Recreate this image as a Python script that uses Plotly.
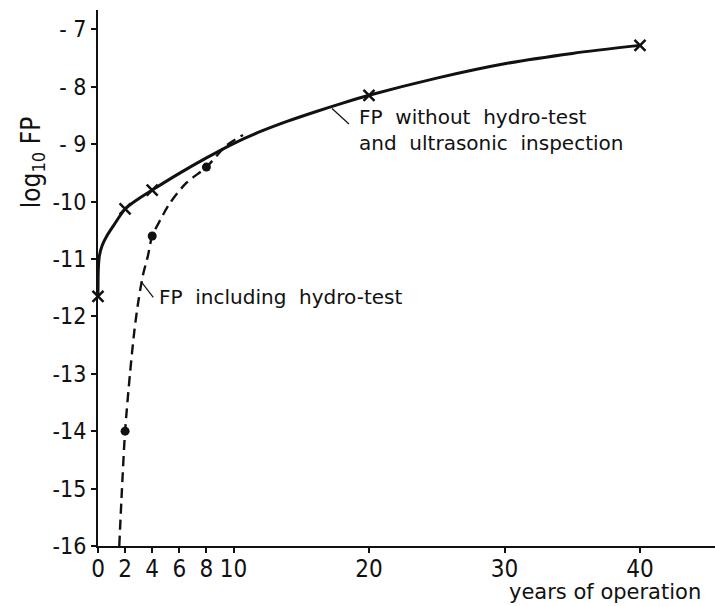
import plotly.graph_objects as go

# ---- data ----
solid_x = [0, 0.02, 0.1, 0.3, 0.65, 1.2, 2, 3, 4, 6, 8, 10, 12, 14, 16, 18, 20, 25, 30, 35, 40]
solid_y = [-11.65, -11.2, -10.95, -10.77, -10.6, -10.4, -10.13, -9.95, -9.8, -9.51, -9.24, -8.99,
           -8.78, -8.6, -8.44, -8.29, -8.15, -7.85, -7.6, -7.42, -7.28]
cross_x = [0, 2, 4, 20, 40]
cross_y = [-11.65, -10.13, -9.8, -8.15, -7.28]

dash_x = [1.57, 1.77, 2.0, 2.36, 2.69, 2.99, 3.32, 3.69, 4.0, 4.6, 5.3, 6.5, 8.0, 9.5, 10.7]
dash_y = [-16, -15, -14, -13, -12.24, -11.72, -11.28, -10.94, -10.6, -10.32, -10.03, -9.68, -9.4, -9.02, -8.84]
dot_x = [2, 4, 8]
dot_y = [-14, -10.6, -9.4]

x_ticks = [0, 2, 4, 6, 8, 10, 20, 30, 40]
x_ticklabels = ["0", "2", "4", "6", "8", "10", "20", "30", "40"]
y_ticks = [-16, -15, -14, -13, -12, -11, -10, -9, -8, -7]
y_ticklabels = ["-16", "-15", "-14", "-13", "-12", "-11", "-10", "- 9", "- 8", "- 7"]

S2 = "\u00a0 "
label_without = "FP" + S2 + "without" + S2 + "hydro-test<br>and" + S2 + "ultrasonic" + S2 + "inspection"
label_including = "FP" + S2 + "including" + S2 + "hydro-test"

TICKFONT = "DejaVu Sans Condensed, Liberation Sans Narrow, DejaVu Sans, sans-serif"
TEXTFONT = "DejaVu Sans, sans-serif"
INK = "#111111"

fig = go.Figure()
fig.add_trace(go.Scatter(x=solid_x, y=solid_y, mode="lines",
                         line=dict(color=INK, width=3, shape="spline", smoothing=0.8),
                         cliponaxis=False, hoverinfo="skip"))
fig.add_trace(go.Scatter(x=dash_x, y=dash_y, mode="lines",
                         line=dict(color=INK, width=2.4, dash="10px,6px", shape="spline", smoothing=0.8),
                         cliponaxis=False, hoverinfo="skip"))
fig.add_trace(go.Scatter(x=cross_x, y=cross_y, mode="markers",
                         marker=dict(symbol="x-thin", size=11, line=dict(color=INK, width=2.5)),
                         cliponaxis=False))
fig.add_trace(go.Scatter(x=dot_x, y=dot_y, mode="markers",
                         marker=dict(symbol="circle", size=9, color=INK),
                         cliponaxis=False))

# leader lines
fig.add_shape(type="line", x0=17.27, y0=-8.38, x1=18.52, y1=-8.65,
              line=dict(color=INK, width=1.2))
fig.add_shape(type="line", x0=3.2, y0=-11.4, x1=4.08, y1=-11.67,
              line=dict(color=INK, width=1.2))

fig.add_annotation(x=19.11, y=-8.76, text=label_without, showarrow=False,
                   xanchor="left", yanchor="middle", align="left",
                   font=dict(family=TEXTFONT, size=20, color=INK))
fig.add_annotation(x=4.35, y=-11.67, text=label_including, showarrow=False,
                   xanchor="left", yanchor="middle", align="left",
                   font=dict(family=TEXTFONT, size=20, color=INK))

# axis titles as annotations
fig.add_annotation(xref="paper", yref="paper", x=-0.107, y=0.716,
                   text="log<sub>10</sub> FP", textangle=-90, showarrow=False,
                   xanchor="center", yanchor="middle",
                   font=dict(family=TICKFONT, size=26, color=INK))
fig.add_annotation(xref="paper", yref="paper", x=0.9805, y=-0.112,
                   text="years of operation", showarrow=False,
                   xanchor="right", yanchor="bottom",
                   font=dict(family=TEXTFONT, size=21, color=INK))

fig.update_xaxes(range=[0, 45.535], tickmode="array", tickvals=x_ticks, ticktext=x_ticklabels,
                 showline=True, linecolor=INK, linewidth=2, ticks="outside", ticklen=5,
                 tickwidth=1.5, tickcolor=INK, showgrid=False, zeroline=False,
                 ticklabelstandoff=-5,
                 tickfont=dict(family=TICKFONT, size=24, color=INK))
fig.update_yaxes(range=[-16, -6.664], tickmode="array", tickvals=y_ticks, ticktext=y_ticklabels,
                 showline=True, linecolor=INK, linewidth=2, ticks="outside", ticklen=5,
                 tickwidth=1.5, tickcolor=INK, showgrid=False, zeroline=False,
                 tickfont=dict(family=TICKFONT, size=23, color=INK))

fig.update_layout(width=715, height=606, margin=dict(l=98, r=0, t=10, b=60),
                  paper_bgcolor="white", plot_bgcolor="white", showlegend=False)

fig.write_html("out.html")
